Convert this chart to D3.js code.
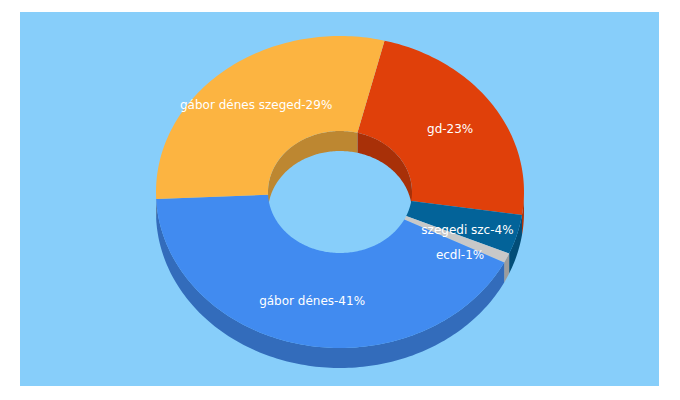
<!DOCTYPE html>
<html><head><meta charset="utf-8">
<script src="https://cdn.jsdelivr.net/npm/d3@7"></script>
<style>body{margin:0;background:#fff}</style></head>
<body><svg id="c" width="680" height="400"></svg>
<script>
const categories = ["gd","szegedi szc","ecdl","gábor dénes","gábor dénes szeged"];
const values = [23,4,1,41,29];
const colors = ["#E0400A","#036399","#C8C8C8","#418BF0","#FCB441"];
const labelDy = [0,8,16,0,0];

const svg = d3.select("#c");
svg.append("rect").attr("x",20).attr("y",12).attr("width",639).attr("height",374).attr("fill","#87CEFA");
const cx=340, cy=192, rx=184, ry=156, irx=72, iry=61, depth=20;
const start = 14*Math.PI/180;
const pie = d3.pie().sort(null).startAngle(start).endAngle(start+2*Math.PI);
const arcs = pie(values);
const P=(a,r1,r2,dy=0)=>[cx+r1*Math.sin(a), cy-r2*Math.cos(a)+dy];
function pts(a0,a1,r1,r2,dy){const n=Math.max(2,Math.ceil((a1-a0)/0.02));return d3.range(n+1).map(i=>P(a0+(a1-a0)*i/n,r1,r2,dy));}
const line=d3.line();
function band(a0,a1,r1,r2){ // wall
  const top=pts(a0,a1,r1,r2,0), bot=pts(a0,a1,r1,r2,depth).reverse();
  return line(top.concat(bot))+"Z";
}
const g=svg.append("g");
function clip(a0,a1,lo,hi){const s=Math.max(a0,lo),e=Math.min(a1,hi);return s<e?[s,e]:null;}
const T=2*Math.PI;
// inner walls (back part: angle in [-90,90] i.e. [270,450])
arcs.forEach((d,i)=>{
  [[-T/4,T/4],[3*T/4,5*T/4]].forEach(([lo,hi])=>{
    const c=clip(d.startAngle,d.endAngle,lo,hi);
    if(c) g.append("path").attr("d",band(c[0],c[1],irx,iry)).attr("fill",d3.color(colors[i]).darker(0.8));
  });
});
// outer walls (front part: [90,270])
arcs.forEach((d,i)=>{
  [[T/4,3*T/4],[5*T/4,7*T/4]].forEach(([lo,hi])=>{
    const c=clip(d.startAngle,d.endAngle,lo,hi);
    if(c) g.append("path").attr("d",band(c[0],c[1],rx,ry)).attr("fill",d3.color(colors[i]).darker(0.7));
  });
});
// tops
arcs.forEach((d,i)=>{
  const o=pts(d.startAngle,d.endAngle,rx,ry,0), inn=pts(d.startAngle,d.endAngle,irx,iry,0).reverse();
  g.append("path").attr("d",line(o.concat(inn))+"Z").attr("fill",colors[i]);
});
// labels
arcs.forEach((d,i)=>{
  const m=(d.startAngle+d.endAngle)/2;
  const [x,y]=P(m,rx*0.72,ry*0.72,0);
  svg.append("text").attr("x",x).attr("y",y+labelDy[i]).attr("text-anchor","middle").attr("dominant-baseline","middle")
    .attr("font-family","DejaVu Sans, Verdana, sans-serif").attr("font-size",12).attr("fill","#fff")
    .text(categories[i]+"-"+values[i]+"%");
});
</script></body></html>
